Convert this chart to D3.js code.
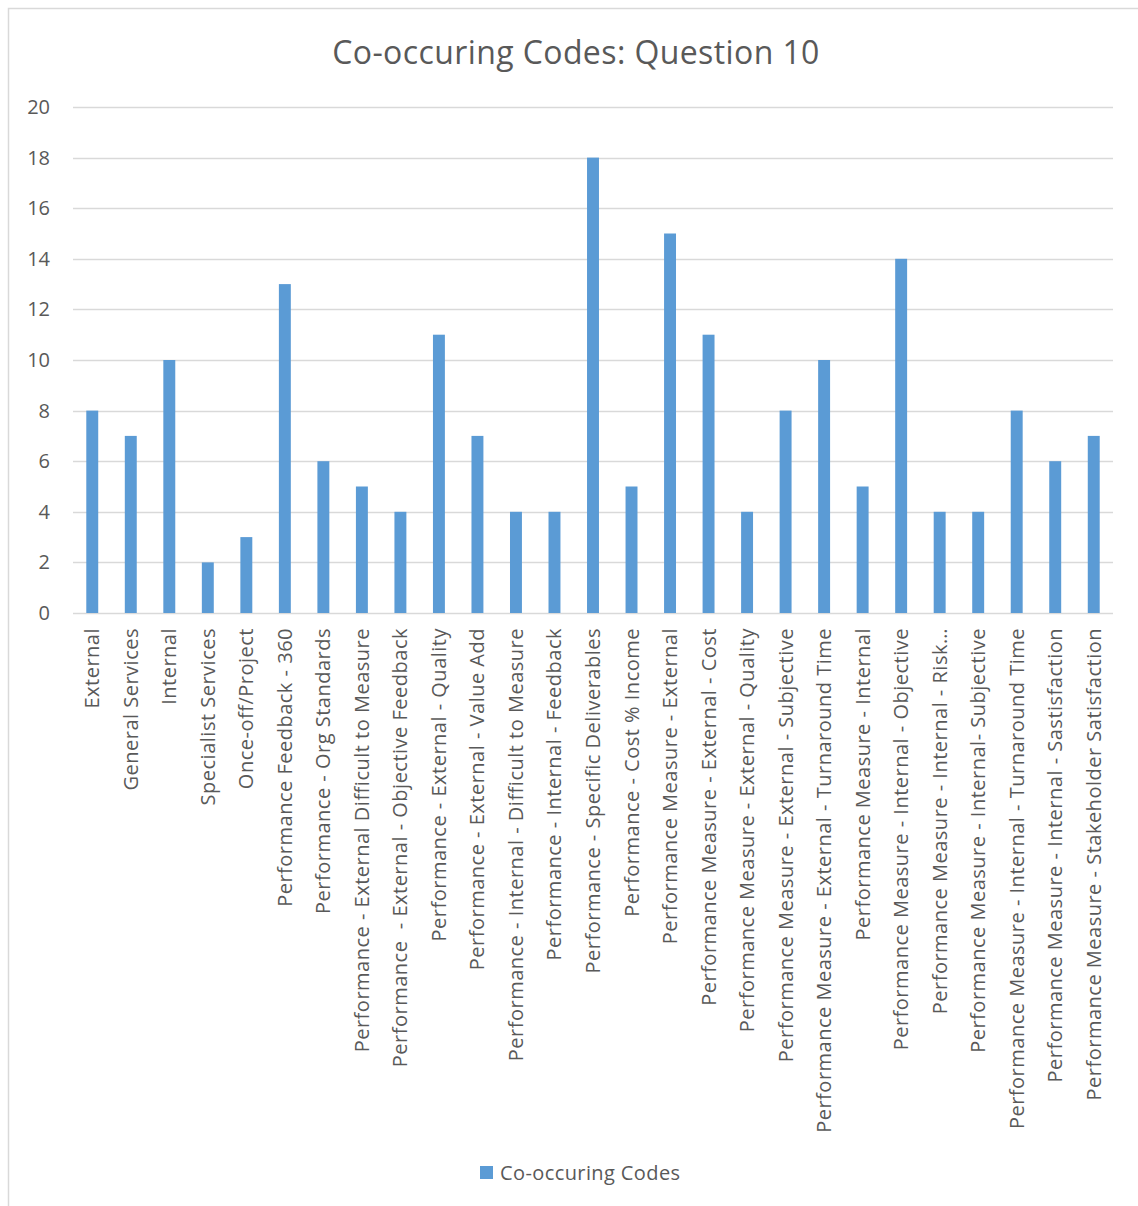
<!DOCTYPE html>
<html>
<head>
<meta charset="utf-8">
<script src="https://cdn.jsdelivr.net/npm/d3@7"></script>
<style>
  html, body { margin: 0; padding: 0; background: #fff; }
  svg { display: block; font-family: "Open Sans", "Noto Sans", sans-serif; }
</style>
</head>
<body>
<svg id="chart" width="1138" height="1206"></svg>
<script>
const categories = [
  "External",
  "General Services",
  "Internal",
  "Specialist Services",
  "Once-off/Project",
  "Performance Feedback - 360",
  "Performance - Org Standards",
  "Performance - External Difficult to Measure",
  "Performance  - External - Objective Feedback",
  "Performance - External - Quality",
  "Performance - External - Value Add",
  "Performance - Internal - Difficult to Measure",
  "Performance - Internal - Feedback",
  "Performance - Specific Deliverables",
  "Performance - Cost % Income",
  "Performance Measure - External",
  "Performance Measure - External - Cost",
  "Performance Measure - External - Quality",
  "Performance Measure - External - Subjective",
  "Performance Measure - External - Turnaround Time",
  "Performance Measure - Internal",
  "Performance Measure - Internal - Objective",
  "Performance Measure - Internal - Risk…",
  "Performance Measure - Internal- Subjective",
  "Performance Measure - Internal - Turnaround Time",
  "Performance Measure - Internal - Sastisfaction",
  "Performance Measure - Stakeholder Satisfaction"
];
const values = [8, 7, 10, 2, 3, 13, 6, 5, 4, 11, 7, 4, 4, 18, 5, 15, 11, 4, 8, 10, 5, 14, 4, 4, 8, 6, 7];
const yTicks = [0, 2, 4, 6, 8, 10, 12, 14, 16, 18, 20];
const title = "Co-occuring Codes: Question 10";
const seriesName = "Co-occuring Codes";

const svg = d3.select("#chart");
const textColor = "#595959";
const gridColor = "#D9D9D9";
const barColor = "#5B9BD5";

// chart border
svg.append("path")
  .attr("d", "M8.5,1206 L8.5,8.5 L1138,8.5")
  .attr("fill", "none")
  .attr("stroke", gridColor)
  .attr("stroke-width", 1.5);

const plot = { left: 73, right: 1113, top: 107, bottom: 613 };

const x = d3.scaleBand()
  .domain(categories)
  .range([plot.left, plot.right])
  .paddingInner(0.69)
  .paddingOuter(0.345);

const y = d3.scaleLinear()
  .domain([0, 20])
  .range([plot.bottom, plot.top]);

// title
svg.append("text")
  .attr("x", 576)
  .attr("y", 64)
  .attr("text-anchor", "middle")
  .attr("font-size", 32)
  .attr("letter-spacing", 0.4)
  .attr("fill", textColor)
  .text(title);

// gridlines
svg.append("g")
  .selectAll("line")
  .data(yTicks)
  .join("line")
  .attr("x1", plot.left)
  .attr("x2", plot.right)
  .attr("y1", d => Math.round(y(d)) + 0.5)
  .attr("y2", d => Math.round(y(d)) + 0.5)
  .attr("stroke", gridColor)
  .attr("stroke-width", 1.3);

// y axis labels
const yAxis = d3.axisLeft(y).tickValues(yTicks).tickSize(0).tickPadding(0);
const gy = svg.append("g")
  .attr("transform", `translate(50,0)`)
  .call(yAxis);
gy.select(".domain").remove();
gy.selectAll("text")
  .attr("font-size", 20)
  .attr("font-family", "'Open Sans', sans-serif")
  .attr("fill", textColor);

// bars
svg.append("g")
  .selectAll("rect")
  .data(values)
  .join("rect")
  .attr("x", (d, i) => x(categories[i]))
  .attr("width", x.bandwidth())
  .attr("y", d => y(d))
  .attr("height", d => y(0) - y(d))
  .attr("fill", barColor);

// x axis labels
const xAxis = d3.axisBottom(x).tickSize(0).tickPadding(0);
const gx = svg.append("g")
  .attr("transform", `translate(0,${plot.bottom})`)
  .call(xAxis);
gx.select(".domain").remove();
gx.selectAll("text")
  .attr("font-size", 20)
  .attr("letter-spacing", 0.5)
  .attr("font-family", "'Open Sans', sans-serif")
  .attr("fill", textColor)
  .attr("text-anchor", "end")
  .attr("dy", "0.35em")
  .attr("transform", "translate(0,15) rotate(-90)")
  .attr("x", 0)
  .attr("y", 0)
  .style("white-space", "pre");

// legend
const legend = svg.append("g").attr("transform", "translate(480,1166)");
legend.append("rect")
  .attr("width", 13)
  .attr("height", 13)
  .attr("fill", barColor);
legend.append("text")
  .attr("x", 20)
  .attr("y", 6.5)
  .attr("dy", "0.35em")
  .attr("font-size", 20)
  .attr("letter-spacing", 0.4)
  .attr("fill", textColor)
  .text(seriesName);
</script>
</body>
</html>
